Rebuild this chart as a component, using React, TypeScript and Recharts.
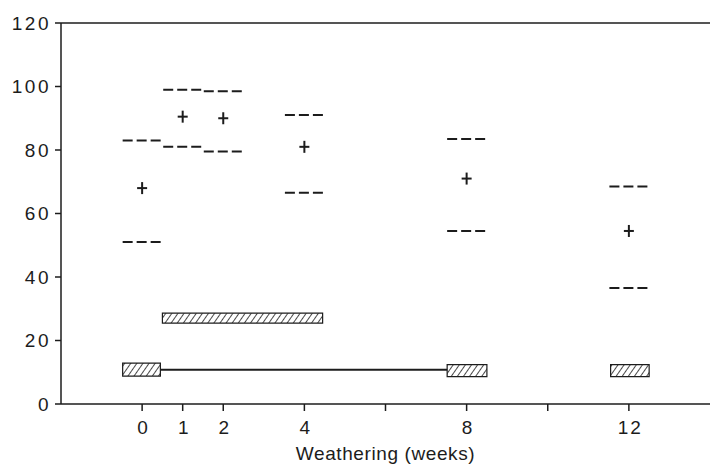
import {
  ComposedChart,
  XAxis,
  YAxis,
  Scatter,
  ReferenceLine,
  ReferenceArea,
} from "recharts";

// weeks of weathering and the read-off values
const weeks = [0, 1, 2, 4, 8, 12];
const upper = [83, 99, 98.5, 91, 83.5, 68.5];
const mean = [68, 90.5, 90, 81, 71, 54.5];
const lower = [51, 81, 79.5, 66.5, 54.5, 36.5];

// hatched boxes near the bottom
const boxStart = [-0.48, 0.5, 7.52, 11.55];
const boxEnd = [0.45, 4.45, 8.5, 12.5];
const boxLow = [8.8, 25.5, 8.6, 8.6];
const boxHigh = [12.9, 28.6, 12.4, 12.4];

// connecting line between the week-0 and week-8 boxes
const linkFrom = 0.45;
const linkTo = 7.52;
const linkValue = 10.8;

const xTicks = [0, 1, 2, 4, 6, 8, 10, 12];
const xLabels = ["0", "1", "2", "4", "", "8", "", "12"];
const yTicks = [0, 20, 40, 60, 80, 100, 120];

const ink = "#1c1c1c";
const font = "'Liberation Sans', Arial, sans-serif";

const meanData = weeks.map((w, i) => ({ x: w, y: mean[i] }));

const Plus = (props: any) => {
  const { cx, cy } = props;
  return (
    <g stroke={ink} strokeWidth={2}>
      <line x1={cx - 5} y1={cy} x2={cx + 5} y2={cy} />
      <line x1={cx} y1={cy - 6} x2={cx} y2={cy + 6} />
    </g>
  );
};

export default function App() {
  const dashRows = [...upper.map((v, i) => ({ w: weeks[i], v })), ...lower.map((v, i) => ({ w: weeks[i], v }))];

  return (
    <div style={{ position: "absolute", left: 0, top: 0, width: 710, height: 464, background: "#fff" }}>
      <svg width={0} height={0} style={{ position: "absolute" }}>
        <defs>
          <pattern id="hatch" patternUnits="userSpaceOnUse" width={5} height={10} patternTransform="rotate(35)">
            <rect width={5} height={10} fill="#fff" />
            <line x1={0} y1={0} x2={0} y2={10} stroke={ink} strokeWidth={1.6} />
          </pattern>
        </defs>
      </svg>
      <ComposedChart width={710} height={464} margin={{ top: 23, right: 0, left: 0, bottom: 0 }}>
        <XAxis
          type="number"
          dataKey="x"
          domain={[-2, 14]}
          ticks={xTicks}
          tickFormatter={(v: number) => xLabels[xTicks.indexOf(v)]}
          allowDataOverflow
          height={60}
          stroke={ink}
          strokeWidth={1.5}
          tickSize={7}
          tickMargin={10}
          tick={{ fill: ink, fontSize: 19, fontFamily: font, letterSpacing: 2, dx: 1.5 }}
          label={{
            value: "Weathering (weeks)",
            position: "insideBottom",
            offset: 4,
            fill: ink,
            fontSize: 19,
            fontFamily: font,
            letterSpacing: 0.6,
          }}
        />
        <YAxis
          type="number"
          dataKey="y"
          domain={[0, 120]}
          ticks={yTicks}
          width={61}
          stroke={ink}
          strokeWidth={1.5}
          tickSize={6}
          tickMargin={4}
          tick={{ fill: ink, fontSize: 19, fontFamily: font, letterSpacing: 2.5 }}
        />
        <ReferenceLine y={120} stroke={ink} strokeWidth={1.5} />
        {dashRows.map((d, i) => (
          <ReferenceLine
            key={"d" + i}
            segment={[
              { x: d.w - 0.48, y: d.v },
              { x: d.w + 0.47, y: d.v },
            ]}
            stroke={ink}
            strokeWidth={2}
            strokeDasharray="10 4"
          />
        ))}
        {boxStart.map((s, i) => (
          <ReferenceArea
            key={"b" + i}
            x1={s}
            x2={boxEnd[i]}
            y1={boxLow[i]}
            y2={boxHigh[i]}
            fill="url(#hatch)"
            fillOpacity={1}
            stroke={ink}
            strokeWidth={1.2}
          />
        ))}
        <ReferenceLine
          segment={[
            { x: linkFrom, y: linkValue },
            { x: linkTo, y: linkValue },
          ]}
          stroke={ink}
          strokeWidth={2}
        />
        <Scatter data={meanData} dataKey="y" shape={<Plus />} isAnimationActive={false} />
      </ComposedChart>
    </div>
  );
}
